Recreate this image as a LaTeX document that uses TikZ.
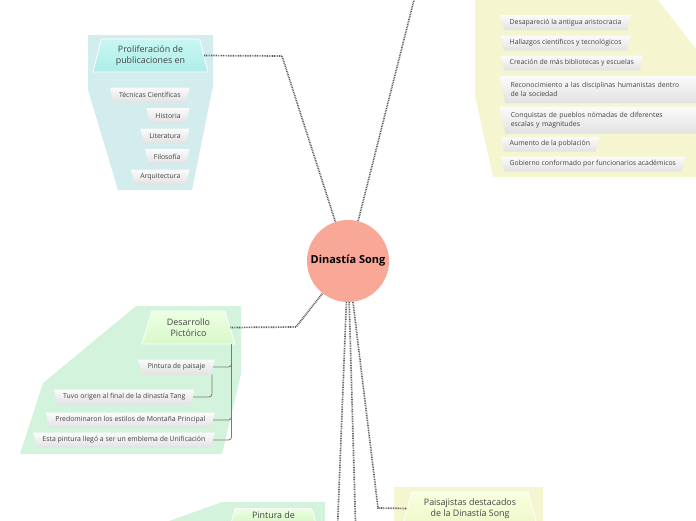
\documentclass[tikz,border=0pt]{standalone}
\usepackage{fontspec}
\setmainfont{Open Sans}
\usetikzlibrary{shapes.geometric,calc}
\definecolor{ink}{HTML}{444444}
\definecolor{linkgray}{HTML}{5C5C5C}
\definecolor{branchgray}{HTML}{7A7A7A}
\definecolor{salmon}{HTML}{F9A898}
\definecolor{cyanbg}{HTML}{D3ECEE}
\definecolor{cyantop}{HTML}{C8F7F3}
\definecolor{cyanbot}{HTML}{AEEDE8}
\definecolor{yellowbg}{HTML}{F5F5CF}
\definecolor{yellowtop}{HTML}{F8FFDF}
\definecolor{yellowbot}{HTML}{EEF8C8}
\definecolor{greenbg}{HTML}{D4F3DC}
\definecolor{greentop}{HTML}{ECFFE2}
\definecolor{greenbot}{HTML}{DAF8CB}
\definecolor{itemtop}{HTML}{FBFBFB}
\definecolor{itembot}{HTML}{E2E2E2}
\tikzset{
  every node/.style={text=ink},
  topic/.style={trapezium, trapezium stretches body, trapezium left angle=71, trapezium right angle=71,
    minimum height=33pt, align=center, inner sep=2pt, draw=white, line width=0.8pt,
    font=\fontsize{8.9}{11.5}\selectfont},
  item/.style={trapezium, trapezium stretches body, trapezium left angle=105, trapezium right angle=105,
    minimum height=15pt, inner xsep=5.5pt, inner ysep=3.8pt, top color=itemtop, bottom color=itembot,
    font=\fontsize{6.9}{8.4}\selectfont},
  longitem/.style={item, text width=190pt, align=left, minimum height=27pt},
  link/.style={draw=linkgray, line width=1.7pt, dash pattern=on 0.85pt off 0.85pt},
  branch/.style={draw=branchgray, line width=0.8pt, rounded corners=3pt},
}

\begin{document}
\begin{tikzpicture}[x=1pt,y=-1pt]
  \useasboundingbox (0,0) rectangle (696,520);
  \clip (0,0) rectangle (696,520);

  % group backgrounds
  \fill[cyanbg] (88,35) -- (213,35) -- (213,86) -- (192,190) -- (118,190) -- (88,90) -- cycle;
  \fill[yellowbg] (475,0) -- (658,0) -- (700,54) -- (700,177) -- (493,177) -- (475,96) -- cycle;
  \fill[greenbg] (136,306) -- (241,306) -- (241,374) -- (222,454) -- (20,454) -- (43,383) -- cycle;
  \fill[greenbg] (222,502) -- (325,502) -- (325,530) -- (144,530) -- cycle;
  \fill[yellowbg] (394,487) rectangle (543,530);

  \node[circle, fill=salmon, minimum size=82pt, inner sep=0pt, text=black,
    font=\fontsize{11}{13}\selectfont\bfseries] (song) at (348,261) {Dinastía Song};

  \node[topic, top color=cyantop, bottom color=cyanbot, minimum width=115pt] (prolif) at (150.5,55.5) {Proliferación de\\publicaciones en};
  \node[item, anchor=east] (tecnicas) at (188,95) {Técnicas Científicas};
  \node[item, anchor=east] (historia) at (188,115.5) {Historia};
  \node[item, anchor=east] (literatura) at (188,136) {Literatura};
  \node[item, anchor=east] (filosofia) at (188,156.5) {Filosofía};
  \node[item, anchor=east] (arquitectura) at (188,177) {Arquitectura};

  \node[item, anchor=west] (aristocracia) at (502,22.5) {Desapareció la antigua aristocracia};
  \node[item, anchor=west] (hallazgos) at (502,43) {Hallazgos científicos y tecnológicos};
  \node[item, anchor=west] (bibliotecas) at (502,63) {Creación de más bibliotecas y escuelas};
  \node[longitem, anchor=west] (humanistas) at (502,89.5) {Reconocimiento a las disciplinas humanistas dentro\\de la sociedad};
  \node[longitem, anchor=west] (nomadas) at (502,120) {Conquistas de pueblos nómadas de diferentes\\escalas y magnitudes};
  \node[item, anchor=west] (poblacion) at (502,144) {Aumento de la población};
  \node[item, anchor=west] (gobierno) at (502,164) {Gobierno conformado por funcionarios académicos};

  \node[topic, top color=greentop, bottom color=greenbot, minimum width=93pt,
    trapezium left angle=66, trapezium right angle=66] (pictorico) at (188.5,327.5) {Desarrollo\\Pictórico};
  \node[item, anchor=east] (paisaje) at (213,367) {Pintura de paisaje};
  \node[item, anchor=east] (origen) at (193,397) {Tuvo origen al final de la dinastía Tang};
  \node[item, anchor=east] (predominaron) at (213,420) {Predominaron los estilos de Montaña Principal};
  \node[item, anchor=east] (emblema) at (213,440) {Esta pintura llegó a ser un emblema de Unificación};

  \node[topic, top color=greentop, bottom color=greenbot, minimum width=84pt, minimum height=13pt,
    trapezium left angle=70, trapezium right angle=70, anchor=north] (pintura) at (273.5,508) {Pintura de};
  \node[topic, top color=yellowtop, bottom color=yellowbot, minimum width=134pt,
    trapezium left angle=70, trapezium right angle=70] (paisajistas) at (470,508.5) {Paisajistas destacados\\de la Dinastía Song};

  % connectors
  \coordinate (prolifbend) at (282,56);
  \draw[link] (prolif.east) -- (prolifbend) -- (song);
  \coordinate (socialtop) at (419,-20);
  \draw[link] (song) -- (socialtop);
  \coordinate (pictbend) at (296,327);
  \draw[link] (pictorico.east) -- (pictbend) -- (song);
  \coordinate (pinturabend) at (337,540);
  \draw[link] (song) -- (pinturabend);
  \coordinate (lowerbend) at (356,540);
  \draw[link] (song) -- (lowerbend);
  \coordinate (paisabend) at (378,508);
  \draw[link] (song) -- (paisabend) -- (paisajistas.west);

  \draw[branch] ([xshift=-4pt]pictorico.bottom right corner) |- (paisaje.east);
  \draw[branch] ([xshift=-4pt]pictorico.bottom right corner) |- (predominaron.east);
  \draw[branch] ([xshift=-4pt]pictorico.bottom right corner) |- (emblema.east);
  \draw[branch] ([xshift=1pt]paisaje.bottom right corner) |- (origen.east);
\end{tikzpicture}
\end{document}
